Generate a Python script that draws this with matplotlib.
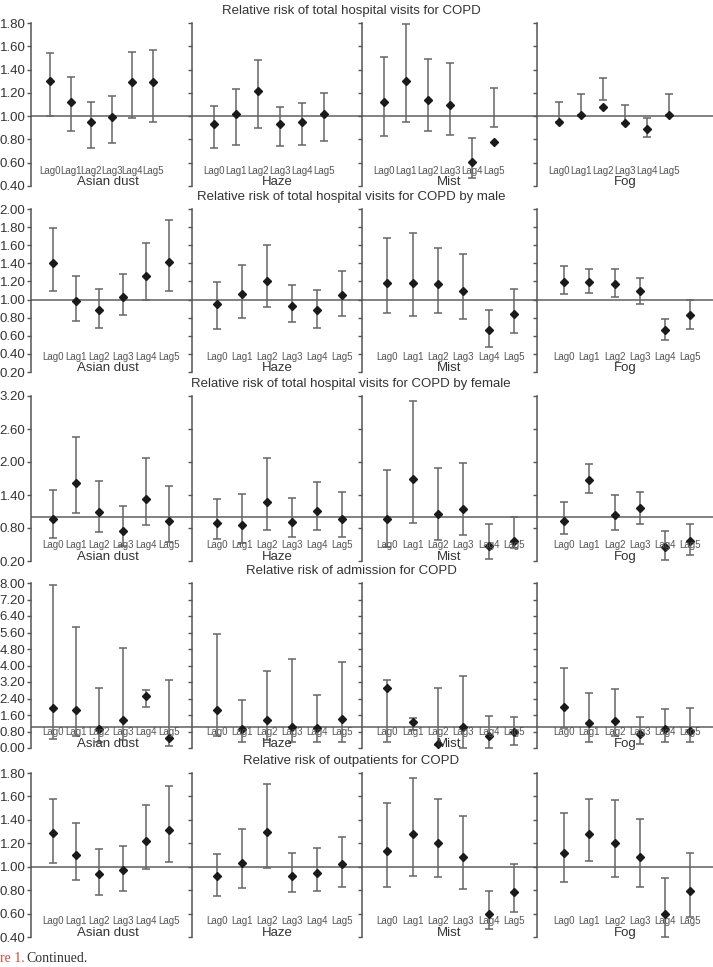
import numpy as np
import matplotlib
matplotlib.use('Agg')
import matplotlib.pyplot as plt

plt.rcParams['font.family'] = ['Liberation Sans', 'DejaVu Sans']

groups = ['Asian dust', 'Haze', 'Mist', 'Fog']
lags = ['Lag0', 'Lag1', 'Lag2', 'Lag3', 'Lag4', 'Lag5']

titles = ['Relative risk of total hospital visits for COPD',
          'Relative risk of total hospital visits for COPD by male',
          'Relative risk of total hospital visits for COPD by female',
          'Relative risk of admission for COPD',
          'Relative risk of outpatients for COPD']

# relative risk, lower and upper bounds, one list per group (Asian dust, Haze, Mist, Fog)
total_rr = [[1.30, 1.12, 0.95, 0.99, 1.29, 1.29],
            [0.93, 1.02, 1.22, 0.93, 0.95, 1.02],
            [1.12, 1.30, 1.14, 1.10, 0.61, 0.78],
            [0.95, 1.01, 1.08, 0.94, 0.89, 1.01]]
total_lo = [[1.00, 0.87, 0.73, 0.77, 0.98, 0.95],
            [0.73, 0.75, 0.90, 0.74, 0.75, 0.79],
            [0.83, 0.95, 0.87, 0.84, 0.47, 0.91],
            [0.95, 1.01, 1.14, 0.94, 0.82, 1.01]]
total_hi = [[1.54, 1.34, 1.12, 1.17, 1.55, 1.57],
            [1.09, 1.23, 1.48, 1.08, 1.11, 1.20],
            [1.51, 1.79, 1.49, 1.46, 0.81, 1.24],
            [1.12, 1.19, 1.33, 1.10, 0.98, 1.19]]

male_rr = [[1.40, 0.98, 0.88, 1.03, 1.26, 1.42],
           [0.95, 1.06, 1.20, 0.93, 0.89, 1.05],
           [1.18, 1.18, 1.17, 1.09, 0.66, 0.84],
           [1.19, 1.19, 1.17, 1.09, 0.66, 0.83]]
male_lo = [[1.10, 0.76, 0.69, 0.83, 0.99, 1.09],
           [0.68, 0.80, 0.92, 0.75, 0.69, 0.82],
           [0.85, 0.82, 0.85, 0.78, 0.48, 0.63],
           [1.06, 1.07, 1.03, 0.95, 0.55, 0.67]]
male_hi = [[1.79, 1.26, 1.12, 1.28, 1.63, 1.88],
           [1.19, 1.38, 1.60, 1.16, 1.11, 1.32],
           [1.68, 1.74, 1.57, 1.50, 0.89, 1.12],
           [1.37, 1.34, 1.34, 1.24, 0.79, 0.99]]

female_rr = [[0.97, 1.61, 1.10, 0.75, 1.32, 0.92],
             [0.90, 0.86, 1.27, 0.91, 1.11, 0.96],
             [0.97, 1.69, 1.06, 1.15, 0.47, 0.57],
             [0.92, 1.67, 1.04, 1.16, 0.45, 0.56]]
female_lo = [[0.61, 1.08, 0.73, 0.48, 0.85, 0.55],
             [0.60, 0.52, 0.77, 0.63, 0.77, 0.63],
             [0.45, 0.89, 0.58, 0.67, 0.24, 0.43],
             [0.69, 1.44, 0.77, 0.88, 0.22, 0.31]]
female_hi = [[1.50, 2.45, 1.66, 1.20, 2.07, 1.56],
             [1.33, 1.42, 2.07, 1.35, 1.64, 1.45],
             [1.85, 3.11, 1.90, 1.98, 0.88, 1.00],
             [1.27, 1.96, 1.40, 1.46, 0.74, 0.88]]

admit_rr = [[1.95, 1.85, 0.91, 1.34, 2.53, 0.50],
            [1.83, 0.91, 1.36, 1.04, 0.99, 1.41],
            [2.92, 1.28, 0.18, 1.00, 0.58, 0.78],
            [1.98, 1.23, 1.31, 0.70, 0.91, 0.83]]
admit_lo = [[0.45, 0.60, 0.29, 0.37, 2.01, 0.08],
            [0.60, 0.29, 0.37, 0.29, 0.29, 0.29],
            [0.29, 0.89, 0.13, 0.01, 0.00, 0.13],
            [0.96, 0.29, 0.60, 0.21, 0.29, 0.29]]
admit_hi = [[7.90, 5.87, 2.90, 4.85, 2.79, 3.31],
            [5.53, 2.33, 3.73, 4.30, 2.59, 4.17],
            [3.32, 1.44, 2.89, 3.50, 1.56, 1.51],
            [3.89, 2.68, 2.85, 1.52, 1.90, 1.95]]

outp_rr = [[1.29, 1.10, 0.94, 0.97, 1.22, 1.31],
           [0.92, 1.03, 1.30, 0.92, 0.95, 1.02],
           [1.13, 1.28, 1.20, 1.08, 0.60, 0.78],
           [1.12, 1.28, 1.20, 1.08, 0.60, 0.79]]
outp_lo = [[1.03, 0.89, 0.76, 0.79, 0.98, 1.04],
           [0.75, 0.82, 0.99, 0.78, 0.79, 0.83],
           [0.83, 0.92, 0.91, 0.81, 0.47, 0.61],
           [0.87, 1.05, 0.91, 0.83, 0.40, 0.57]]
outp_hi = [[1.58, 1.37, 1.15, 1.18, 1.53, 1.69],
           [1.11, 1.32, 1.71, 1.12, 1.16, 1.25],
           [1.54, 1.76, 1.58, 1.43, 0.79, 1.02],
           [1.46, 1.58, 1.57, 1.41, 0.90, 1.12]]

rows_rr = [total_rr, male_rr, female_rr, admit_rr, outp_rr]
rows_lo = [total_lo, male_lo, female_lo, admit_lo, outp_lo]
rows_hi = [total_hi, male_hi, female_hi, admit_hi, outp_hi]
row_ticks = [np.arange(0.4, 1.81, 0.2), np.arange(0.2, 2.01, 0.2),
             np.arange(0.2, 3.21, 0.6), np.arange(0.0, 8.01, 0.8),
             np.arange(0.4, 1.81, 0.2)]

# layout in pixels
W, H = 713, 967
col_edges = [31, 192, 362, 537, 713]
row_spans = [(23, 186), (209, 372), (396, 561), (583, 748), (773, 937)]
xlims_first = [(-0.92, 6.9), (-1.0, 6.73), (-1.0, 6.95), (-1.0, 7.0)]
xlims_other = [(-0.95, 6.0), (-1.0, 5.8), (-1.0, 5.9), (-1.07, 5.9)]

bar_col = '#666666'
axis_col = '#555555'

fig = plt.figure(figsize=(W / 100, H / 100), dpi=100)
x = np.arange(len(lags))

for r in range(5):
    top, bot = row_spans[r]
    ticks = row_ticks[r]
    for g in range(4):
        l, rgt = col_edges[g], col_edges[g + 1]
        ax = fig.add_axes([l / W, 1 - bot / H, (rgt - l) / W, (bot - top) / H])
        ax.patch.set_alpha(0)
        rr = np.array(rows_rr[r][g])
        lo = np.array(rows_lo[r][g])
        hi = np.array(rows_hi[r][g])
        ax.axhline(1.0, color='#777777', lw=1.3, zorder=1)
        ax.errorbar(x, lo, yerr=[np.zeros_like(lo), hi - lo], fmt='none',
                    ecolor=bar_col, elinewidth=1.1, capsize=3, capthick=1.1, zorder=2)
        ax.plot(x, rr, 'D', color='#1a1a1a', ms=4.2, zorder=3)
        ax.set_ylim(ticks[0], ticks[-1])
        ax.set_yticks(ticks)
        ax.set_xlim(*(xlims_first[g] if r == 0 else xlims_other[g]))
        ax.set_xticks([])
        for s in ['top', 'right', 'bottom']:
            ax.spines[s].set_visible(False)
        ax.spines['left'].set_color(axis_col)
        ax.spines['left'].set_linewidth(1.1)
        ax.tick_params(axis='y', direction='out', length=3, width=1, color=axis_col,
                       labelsize=9.5, labelcolor='#333333', pad=1)
        if g == 0:
            ax.set_yticklabels(['%.2f' % t for t in ticks])
        else:
            ax.set_yticklabels([])
        for i, lab in enumerate(lags):
            ax.text(x[i], 0.095, lab, transform=ax.get_xaxis_transform(),
                    ha='center', va='center', fontsize=7, color='#555555')
        ax.text(0.5 if g else 0.48, 0.025, groups[g], transform=ax.transAxes,
                ha='center', va='center', fontsize=9.5, color='#333333')
    fig.text(351 / W, 1 - (top - 12) / H, titles[r], ha='center', va='center',
             fontsize=9.5, color='#333333')

fig.text(0.0, 1 - 958 / H, 're 1.', ha='left', va='center', fontsize=10,
         family='Liberation Serif', color='#d24a35')
fig.text(26 / W, 1 - 958 / H, 'Continued.', ha='left', va='center', fontsize=10,
         family='Liberation Serif', color='#333333')

fig.savefig('out.png', dpi=100)
